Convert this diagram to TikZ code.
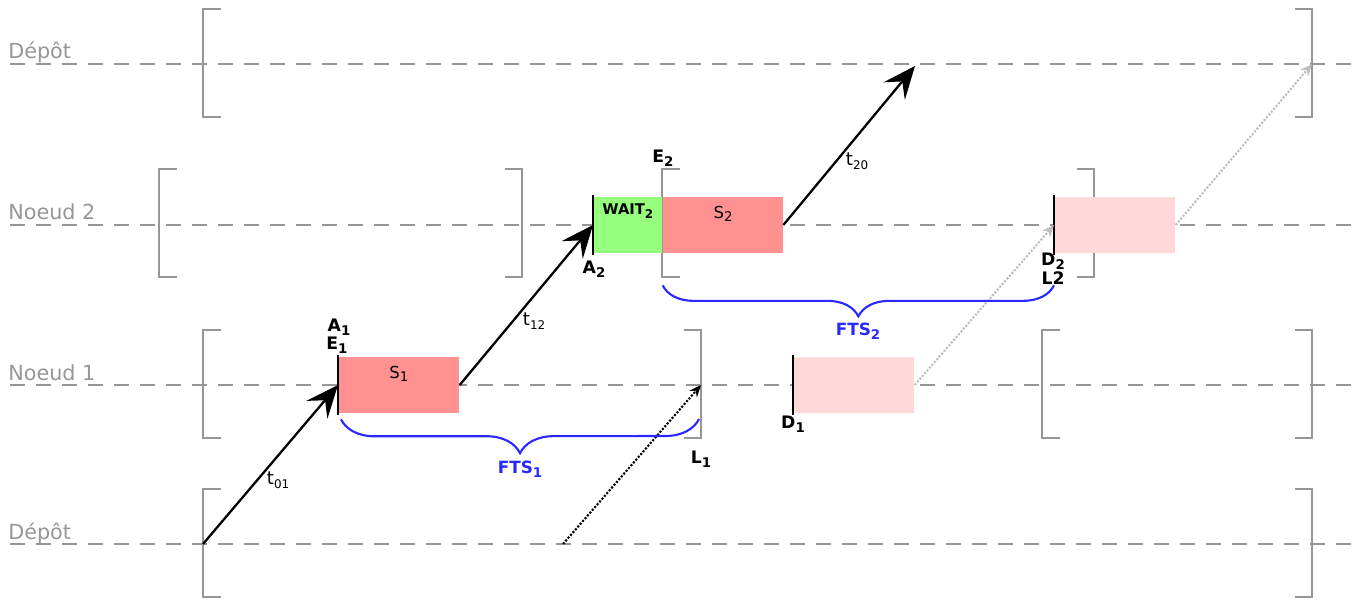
\documentclass[tikz,border=0pt]{standalone}
\usepackage{fontspec}
\setmainfont{DejaVu Sans}
\usepackage{xcolor}
\usetikzlibrary{arrows.meta,positioning,decorations.pathreplacing}
\definecolor{lanegray}{RGB}{150,150,150}
\definecolor{svcred}{RGB}{255,145,145}
\definecolor{waitgreen}{RGB}{150,255,125}
\definecolor{ghostred}{RGB}{255,217,217}
\definecolor{ftsblue}{RGB}{40,40,255}
\definecolor{faintgray}{RGB}{190,190,190}
\newcommand{\lsub}[1]{\raisebox{-2.2pt}{\fontsize{7.6}{8}\selectfont #1}}
\newcommand{\tsub}[1]{\raisebox{-2.2pt}{\fontsize{6.8}{7}\selectfont #1}}

\begin{document}
\begin{tikzpicture}[x=0.02cm,y=-0.02cm,
  lane/.style={draw=lanegray,line width=1.4pt,dash pattern=on 8.5pt off 6.3pt},
  lanelbl/.style={anchor=base west,text=lanegray,inner sep=0pt,
                  font=\fontsize{11.8}{14}\selectfont},
  brk/.style={draw=lanegray,line width=1.4pt},
  job/.style={rectangle,draw=none,inner sep=0pt,anchor=west,minimum height=1.12cm},
  bar/.style={line width=0.7pt},
  trip/.style={-{Stealth[length=6.5mm,width=5.5mm,inset=2.5mm]},line width=1.3pt},
  tlbl/.style={pos=0.4,anchor=west,xshift=4pt,inner sep=1pt,font=\fontsize{10.3}{11}\selectfont},
  evt/.style={inner sep=0pt,font=\fontsize{9.8}{10}\selectfont\bfseries},
  fts/.style={draw=ftsblue,line width=1.2pt,decorate,decoration={brace,amplitude=#1}},
  ftslbl/.style={inner sep=0pt,text=ftsblue,font=\fontsize{9.6}{10}\selectfont\bfseries},
  dotarrow/.style={-{Stealth[length=2.4mm,width=2mm,inset=0.8mm]},line width=1.2pt,
                   dash pattern=on 1.2pt off 0.9pt}]
\useasboundingbox (0,0) rectangle (1370,601);

% lanes
\foreach \y/\txt [count=\i] in {64/Dépôt,225/Noeud 2,385/Noeud 1,544/Dépôt}{
  \draw[lane] (10,\y) -- (1362,\y);
  \node[lanelbl] (lane\i) at (8,\y-5) {\txt};
}
% time windows
\foreach \x/\t/\y in {203/221/64,1312/1295/64,159/177/224,522/505/224,662/680/224,
                      1094/1077/224,203/221/385,701/684/385,1042/1060/385,1312/1295/385,
                      203/221/544,1312/1295/544}
  \draw[brk] (\t,\y-55) -| (\x,\y+53) -- (\t,\y+53);

% jobs
\node[job,fill=svcred,minimum width=2.42cm] (s1) at (338,385) {};
\node[job,fill=waitgreen,minimum width=1.38cm] (wait2) at (593,225) {};
\node[job,fill=svcred,minimum width=2.4cm] (s2) at (wait2.east) {};
\node[job,fill=ghostred,minimum width=2.42cm] (g1) at (793,385) {};
\node[job,fill=ghostred,minimum width=2.42cm] (g2) at (1054,225) {};
\foreach \n in {s1,wait2,g1,g2}
  \draw[bar] ([yshift=1pt]\n.north west) -- ([yshift=-1pt]\n.south west);
\node[inner sep=0pt,anchor=north,font=\fontsize{9.4}{10}\selectfont] (s1t) at ([yshift=-5pt]s1.north) {S\lsub{1}};
\node[inner sep=0pt,anchor=north,font=\fontsize{9.4}{10}\selectfont] (s2t) at ([yshift=-5pt]s2.north) {S\lsub{2}};
\node[inner sep=0pt,anchor=north,font=\fontsize{8.4}{9}\selectfont\bfseries] (w2t) at ([yshift=-4pt]wait2.north) {WAIT\tsub{2}};

% trips
\coordinate (dep0) at (203,544);
\coordinate (ret) at (915,66);
\coordinate (lv0) at (563,544);
\coordinate (l1pt) at (701,385);
\coordinate (back) at (1312,64);
\draw[trip] (dep0) -- node[tlbl] {t\tsub{01}} (s1.west);
\draw[trip] (s1.east) -- node[tlbl] {t\tsub{12}} (wait2.west);
\draw[trip] (s2.east) -- node[tlbl] {t\tsub{20}} (ret);
\draw[dotarrow] (lv0) -- (l1pt);
\draw[dotarrow,faintgray] (g1.east) -- (g2.west);
\draw[dotarrow,faintgray] (g2.east) -- (back);

% events
\node[evt] (A1) at (339,327) {A\lsub{1}};
\node[evt] (E1) at (337,345) {E\lsub{1}};
\node[evt] (E2) at (663,158) {E\lsub{2}};
\node[evt] (A2) at (594,269) {A\lsub{2}};
\node[evt] (D1) at (793,424) {D\lsub{1}};
\node[evt] (L1) at (701,459) {L\lsub{1}};
\node[evt] (D2) at (1053,261) {D\lsub{2}};
\node[evt] (L2) at (1053,278) {L2};

% flexible time spans
\draw[fts=0.68cm] ([shift={(-2,34)}]l1pt) -- ([shift={(3,6)}]s1.south west);
\draw[fts=0.62cm] ([shift={(0,32)}]g2.south west) -- ([shift={(0,32)}]s2.south west);
\node[ftslbl] (fts1) at (520,469) {FTS\lsub{1}};
\node[ftslbl] (fts2) at (858,331) {FTS\lsub{2}};
\end{tikzpicture}
\end{document}
